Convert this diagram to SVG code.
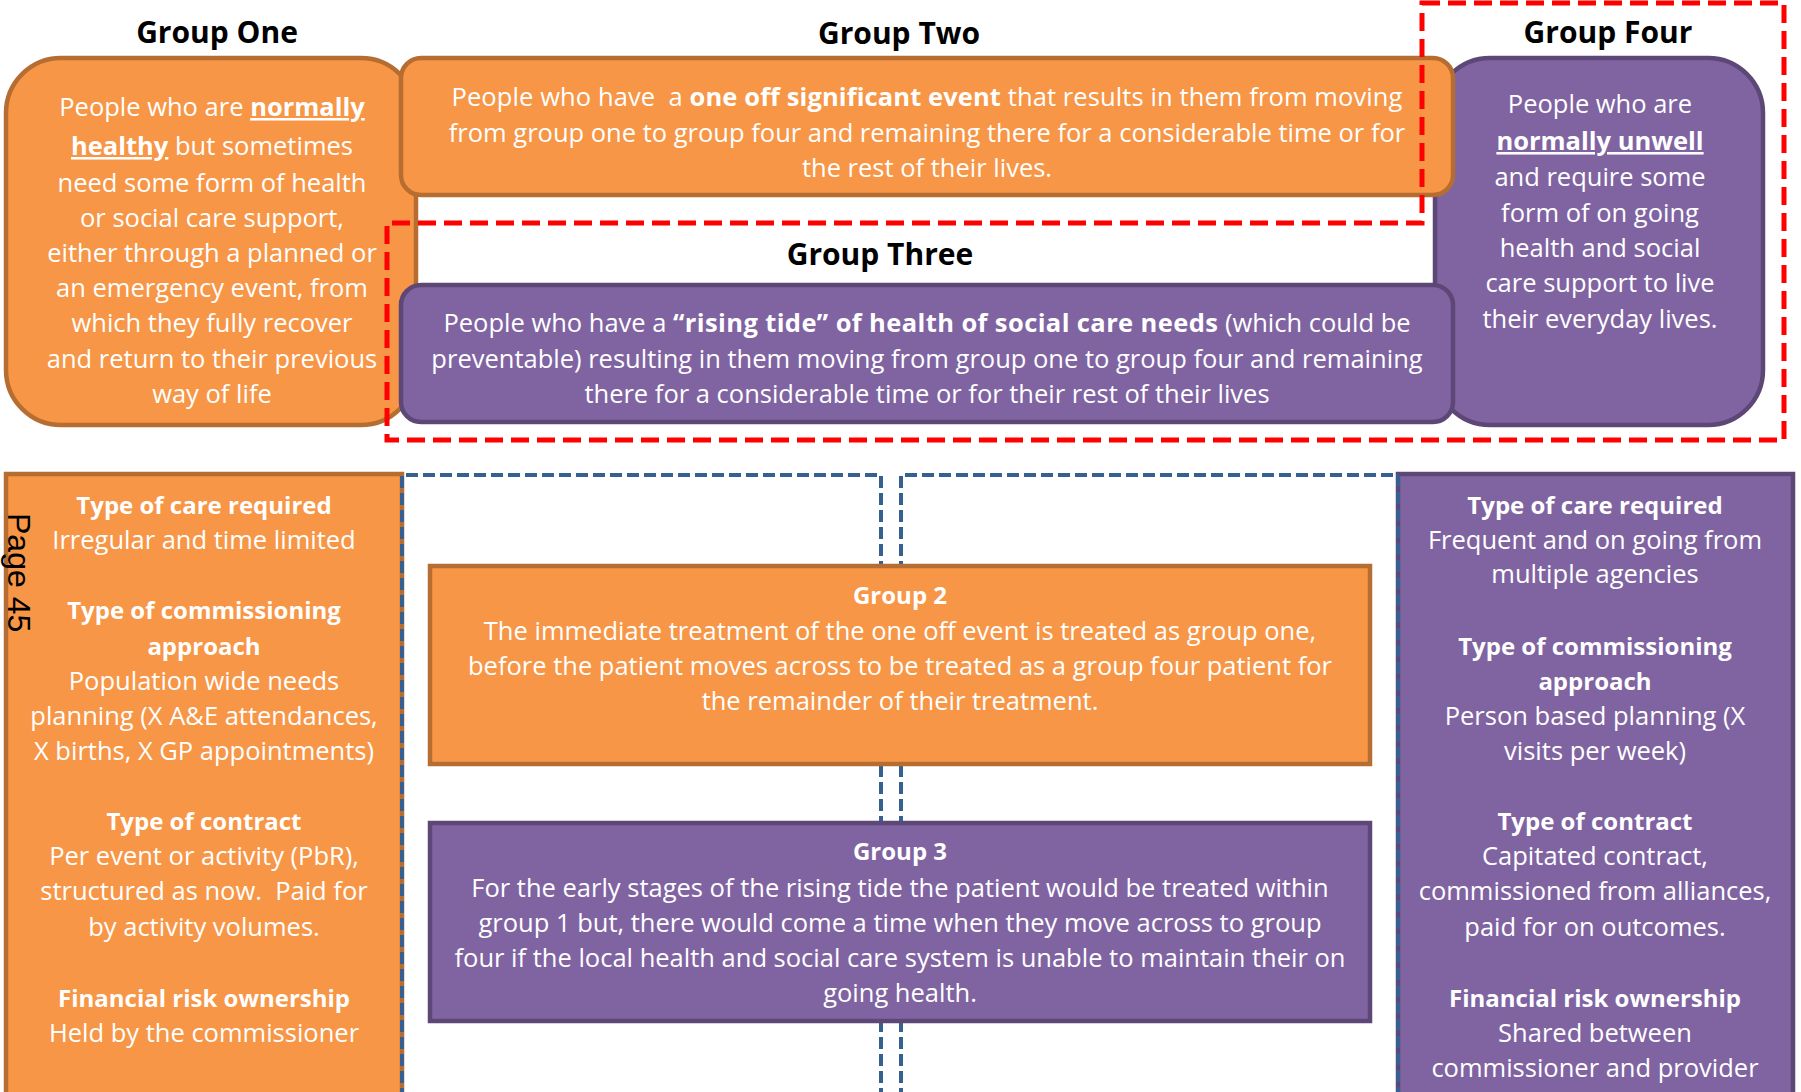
<svg xmlns="http://www.w3.org/2000/svg" width="1801" height="1092" viewBox="0 0 1801 1092">
<style>
text { font-family: "Open Sans", "Liberation Sans", sans-serif; }
.t { font-size: 25.5px; fill: #ffffff; text-anchor: middle; }
.b { font-weight: bold; }
.u { text-decoration: underline; }
.title { font-size: 30px; font-weight: bold; fill: #000000; text-anchor: middle; }
.h { font-size: 24px; font-weight: bold; }
.org { fill: #F79646; stroke: #B66D31; stroke-width: 4.5; }
.pur { fill: #8064A2; stroke: #5C4776; stroke-width: 4.5; }
.red { fill: none; stroke: #FF0000; stroke-width: 5; stroke-dasharray: 18 8; }
.blue { fill: none; stroke: #376092; stroke-width: 4; stroke-dasharray: 12 5; }
</style>
<rect width="1801" height="1092" fill="#ffffff"/>

<g id="group-one">
  <rect class="org" x="6" y="58" width="410" height="367" rx="55"/>
  <text class="title" x="217" y="43">Group One</text>
  <text class="t" x="212" y="116">People who are <tspan class="b u">normally</tspan></text>
  <text class="t" x="212" y="155"><tspan class="b u">healthy</tspan> but sometimes</text>
  <text class="t" x="212" y="191.5">need some form of health</text>
  <text class="t" x="212" y="226.5">or social care support,</text>
  <text class="t" x="212" y="262">either through a planned or</text>
  <text class="t" x="212" y="297">an emergency event, from</text>
  <text class="t" x="212" y="332">which they fully recover</text>
  <text class="t" x="212" y="368">and return to their previous</text>
  <text class="t" x="212" y="403">way of life</text>
</g>

<g id="group-four">
  <rect class="pur" x="1435" y="58" width="328" height="367" rx="55"/>
  <text class="title" x="1608" y="43">Group Four</text>
  <text class="t" x="1600" y="113">People who are</text>
  <text class="t b u" x="1600" y="150">normally unwell</text>
  <text class="t" x="1600" y="186">and require some</text>
  <text class="t" x="1600" y="221.5">form of on going</text>
  <text class="t" x="1600" y="257">health and social</text>
  <text class="t" x="1600" y="292">care support to live</text>
  <text class="t" x="1600" y="327.5">their everyday lives.</text>
</g>

<g id="group-two">
  <rect class="org" x="401" y="58" width="1052" height="137" rx="20"/>
  <text class="title" x="899" y="44">Group Two</text>
  <text class="t" x="927" y="106" style="letter-spacing:0.1px">People who have&#160; a <tspan class="b">one off significant event</tspan> that results in them from moving</text>
  <text class="t" x="927" y="141.5">from group one to group four and remaining there for a considerable time or for</text>
  <text class="t" x="927" y="177">the rest of their lives.</text>
</g>

<g id="group-three">
  <rect class="pur" x="401" y="285" width="1052" height="137" rx="20"/>
  <text class="title" x="880" y="265">Group Three</text>
  <text class="t" x="927" y="332">People who have a <tspan class="b" style="letter-spacing:0.4px">“rising tide” of health of social care needs</tspan> (which could be</text>
  <text class="t" x="927" y="367.5">preventable) resulting in them moving from group one to group four and remaining</text>
  <text class="t" x="927" y="403">there for a considerable time or for their rest of their lives</text>
</g>

<g id="highlight-region">
  <path class="red" d="M1422,3 H1784 V440 H387 V223 H1422 Z"/>
</g>

<g id="group-one-details">
  <rect class="org" x="6" y="474" width="396" height="640"/>
  <text class="t h" x="204" y="513.6">Type of care required</text>
  <text class="t" x="204" y="548.7">Irregular and time limited</text>
  <text class="t h" x="204" y="619.2">Type of commissioning</text>
  <text class="t h" x="204" y="654.7">approach</text>
  <text class="t" x="204" y="689.7">Population wide needs</text>
  <text class="t" x="204" y="725.2">planning (X A&amp;E attendances,</text>
  <text class="t" x="204" y="760.3">X births, X GP appointments)</text>
  <text class="t h" x="204" y="829.6">Type of contract</text>
  <text class="t" x="204" y="865.1">Per event or activity (PbR),</text>
  <text class="t" x="204" y="900.1">structured as now.&#160; Paid for</text>
  <text class="t" x="204" y="935.6">by activity volumes.</text>
  <text class="t h" x="204" y="1007">Financial risk ownership</text>
  <text class="t" x="204" y="1041.6">Held by the commissioner</text>
</g>

<g id="group-four-details">
  <rect class="pur" x="1398" y="474" width="395" height="640"/>
  <text class="t h" x="1595" y="513.6">Type of care required</text>
  <text class="t" x="1595" y="548.7">Frequent and on going from</text>
  <text class="t" x="1595" y="583">multiple agencies</text>
  <text class="t h" x="1595" y="654.7">Type of commissioning</text>
  <text class="t h" x="1595" y="689.7">approach</text>
  <text class="t" x="1595" y="725.2">Person based planning (X</text>
  <text class="t" x="1595" y="760.3">visits per week)</text>
  <text class="t h" x="1595" y="829.6">Type of contract</text>
  <text class="t" x="1595" y="865">Capitated contract,</text>
  <text class="t" x="1595" y="900">commissioned from alliances,</text>
  <text class="t" x="1595" y="935.6">paid for on outcomes.</text>
  <text class="t h" x="1595" y="1007">Financial risk ownership</text>
  <text class="t" x="1595" y="1041.6">Shared between</text>
  <text class="t" x="1595" y="1076.7">commissioner and provider</text>
</g>

<g id="transition-columns">
  <path class="blue" d="M402,1100 V475 H881 V1100"/>
  <path class="blue" d="M901,1100 V475 H1398 V1100"/>
</g>

<g id="group-2-detail">
  <rect class="org" x="430" y="566" width="940" height="198"/>
  <text class="t h" x="900" y="604">Group 2</text>
  <text class="t" x="900" y="640">The immediate treatment of the one off event is treated as group one,</text>
  <text class="t" x="900" y="675">before the patient moves across to be treated as a group four patient for</text>
  <text class="t" x="900" y="710">the remainder of their treatment.</text>
</g>

<g id="group-3-detail">
  <rect class="pur" x="430" y="823" width="940" height="198"/>
  <text class="t h" x="900" y="860">Group 3</text>
  <text class="t" x="900" y="897">For the early stages of the rising tide the patient would be treated within</text>
  <text class="t" x="900" y="931.5">group 1 but, there would come a time when they move across to group</text>
  <text class="t" x="900" y="966.5">four if the local health and social care system is unable to maintain their on</text>
  <text class="t" x="900" y="1001.5">going health.</text>
</g>

<g id="page-label">
  <text x="0" y="0" transform="translate(8,513) rotate(90)" style="font-family:'Liberation Sans',Arial,sans-serif;font-size:32px;fill:#000000;">Page 45</text>
</g>
</svg>
